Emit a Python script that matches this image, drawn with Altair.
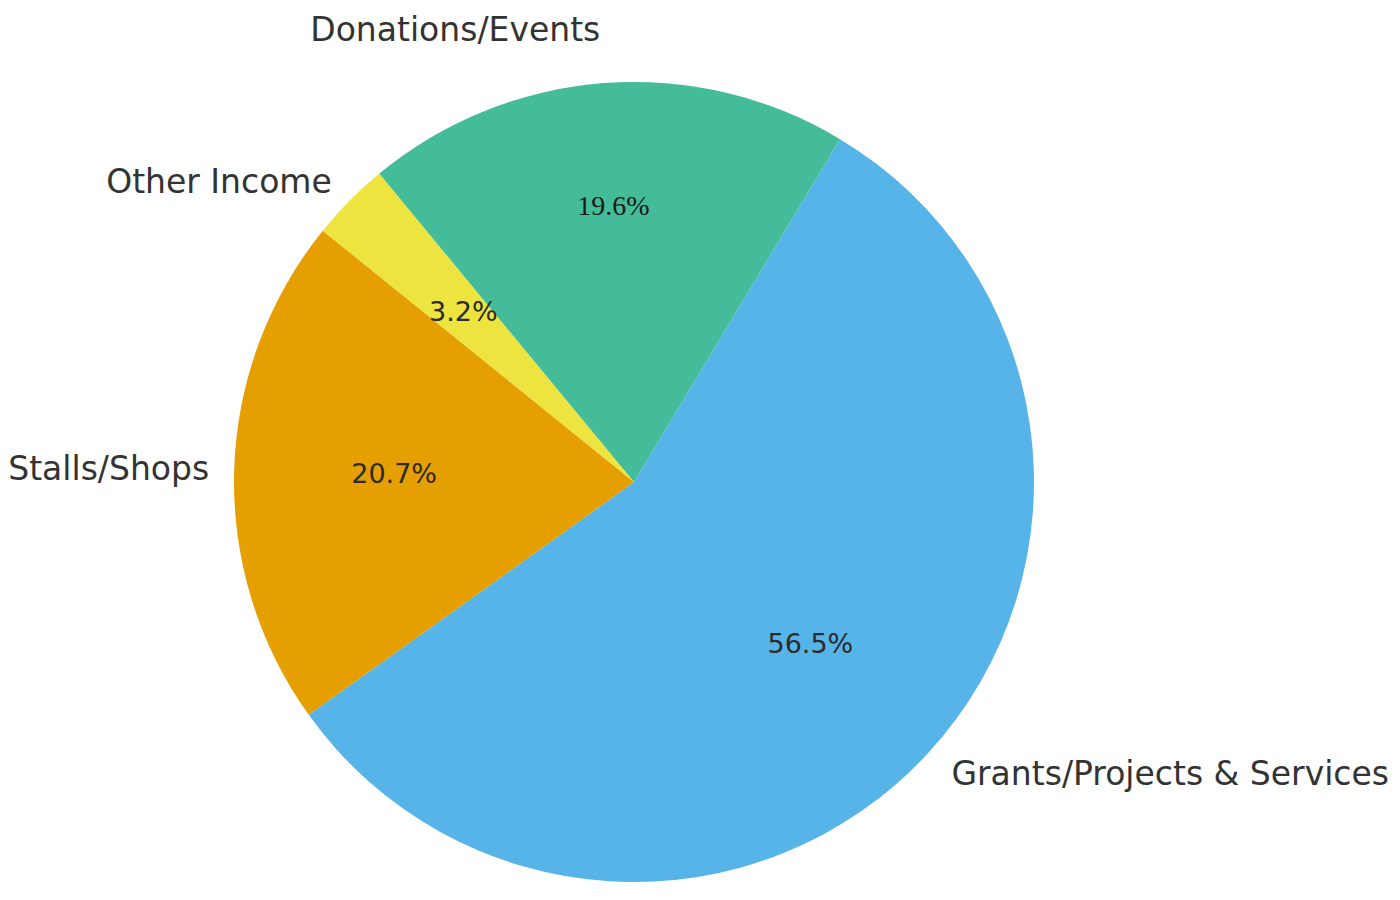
import math
import altair as alt
import pandas as pd

categories = ["Grants/Projects & Services", "Stalls/Shops", "Other Income", "Donations/Events"]
values = [56.5, 20.7, 3.2, 19.6]
pct_labels = ["56.5%", "20.7%", "3.2%", "19.6%"]
colors = ["#56B4E9", "#E69F00", "#EDE440", "#44BB99"]

df = pd.DataFrame({"category": categories, "value": values, "pct": pct_labels,
                   "order": list(range(len(categories)))})

start = math.radians(31)
CX, CY = 625, 474
R = 400

base = alt.Chart(df).encode(
    theta=alt.Theta("value:Q", stack=True, scale=alt.Scale(range=[start, start + 2 * math.pi])),
    order=alt.Order("order:Q"),
    x=alt.value(CX),
    y=alt.value(CY),
)

arcs = base.mark_arc(radius=R, stroke=None).encode(
    color=alt.Color("category:N", scale=alt.Scale(domain=categories, range=colors), legend=None)
)

def lab(cond, field, radius, align, font, size, color):
    return base.transform_calculate(
        t=f"({cond}) ? datum.{field} : ''"
    ).mark_text(radius=radius, align=align, baseline="middle", font=font,
                fontSize=size, color=color).encode(text="t:N")

lab_right = lab("datum.category == 'Grants/Projects & Services'", "category", 432, "left",
                "DejaVu Sans", 33, "#333333")
lab_left = lab("datum.category == 'Stalls/Shops' || datum.category == 'Other Income'", "category", 425,
               "right", "DejaVu Sans", 33, "#333333")
lab_don = lab("datum.category == 'Donations/Events'", "category", 452, "right",
              "DejaVu Sans", 33, "#333333")
pct_sans = lab("datum.category != 'Donations/Events'", "pct", 240, "center",
               "DejaVu Sans", 27, "#2b2b2b")
pct_serif = lab("datum.category == 'Donations/Events'", "pct", 276, "center",
                "Liberation Serif", 28, "#1a1a1a")

chart = alt.layer(lab_don, arcs, lab_right, lab_left, pct_sans, pct_serif).properties(
    width=1384, height=884, padding=0,
    autosize=alt.AutoSizeParams(type="fit", contains="padding"),
).configure_view(stroke=None)

chart.save("out.html", embed_options={"renderer": "svg", "actions": False})
